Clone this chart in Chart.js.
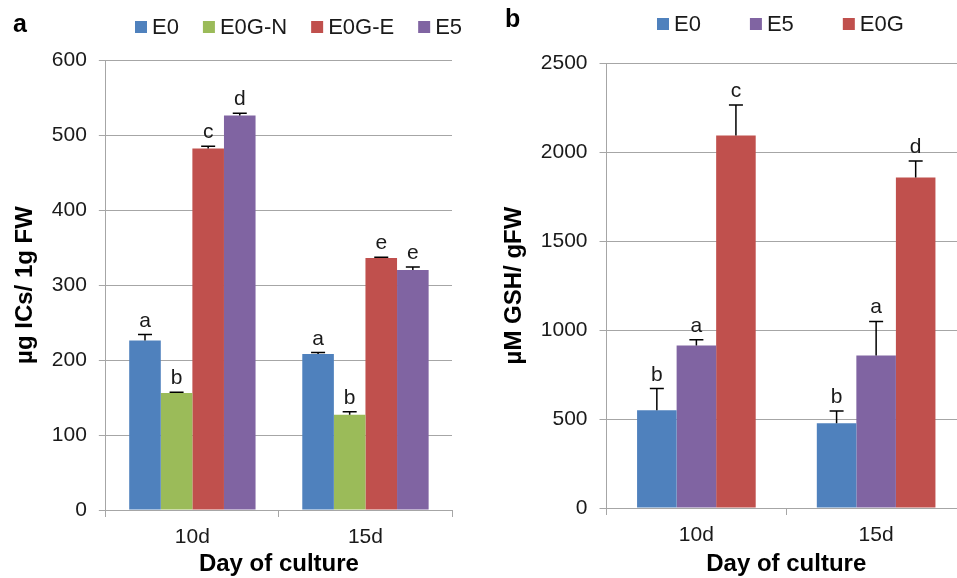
<!DOCTYPE html>
<html>
<head>
<meta charset="utf-8">
<script src="https://cdn.jsdelivr.net/npm/chart.js@4.4.1/dist/chart.umd.min.js"></script>
<style>
  html, body { margin: 0; padding: 0; background: #fff; overflow: hidden; }
  #wrap { position: relative; width: 957px; height: 578px; overflow: hidden; }
  #chartA { position: absolute; left: 0; top: 0; }
  #chartB { position: absolute; left: 488px; top: 0; }
</style>
</head>
<body>
<div id="wrap">
  <canvas id="chartA" width="470" height="578"></canvas>
  <canvas id="chartB" width="490" height="578"></canvas>
</div>
<script>
// shared categories
const days = ['10d', '15d'];

// panel a: ICs content (µg / 1g FW)
const icsE0 = [226, 208];
const icsE0Err = [8, 2];
const icsE0GN = [156, 127];
const icsE0GNErr = [1, 4];
const icsE0GE = [482, 336];
const icsE0GEErr = [3, 1];
const icsE5 = [526, 320];
const icsE5Err = [3, 4];
const icsE0Letters = ['a', 'a'];
const icsE0GNLetters = ['b', 'b'];
const icsE0GELetters = ['c', 'e'];
const icsE5Letters = ['d', 'e'];
const icsTicks = [0, 100, 200, 300, 400, 500, 600];

// panel b: GSH content (µM / gFW)
const gshE0 = [549, 476];
const gshE0Err = [122, 69];
const gshE5 = [913, 857];
const gshE5Err = [32, 191];
const gshE0G = [2092, 1857];
const gshE0GErr = [172, 93];
const gshE0Letters = ['b', 'b'];
const gshE5Letters = ['a', 'a'];
const gshE0GLetters = ['c', 'd'];
const gshTicks = [0, 500, 1000, 1500, 2000, 2500];

const BLUE = '#4f81bd';
const GREEN = '#9bbb59';
const RED = '#c0504d';
const PURPLE = '#8064a2';
const GRID = '#a6a6a6';
const TEXT = '#1a1a1a';
const FONT = "'Liberation Sans', Arial, sans-serif";

// error bars (upper only) + significance letters + legend + panel label
const extrasPlugin = {
    id: 'extras',
    afterDatasetsDraw(chart, args, opts) {
        const ctx = chart.ctx;
        const yScale = chart.scales.y;
        ctx.save();
        chart.data.datasets.forEach((ds, i) => {
            const meta = chart.getDatasetMeta(i);
            meta.data.forEach((bar, j) => {
                const top = yScale.getPixelForValue(ds.data[j] + ds.errors[j]);
                ctx.strokeStyle = '#000';
                ctx.lineWidth = 1.5;
                ctx.beginPath();
                ctx.moveTo(bar.x, bar.y);
                ctx.lineTo(bar.x, top);
                ctx.moveTo(bar.x - 7, top);
                ctx.lineTo(bar.x + 7, top);
                ctx.stroke();
                ctx.fillStyle = TEXT;
                ctx.font = '21px ' + FONT;
                ctx.textAlign = 'center';
                ctx.textBaseline = 'alphabetic';
                ctx.fillText(ds.letters[j], bar.x, top - 8);
            });
        });

        // legend
        let x = opts.legendX;
        const y = opts.legendY;
        ctx.font = '22px ' + FONT;
        ctx.textAlign = 'left';
        ctx.textBaseline = 'middle';
        chart.data.datasets.forEach(ds => {
            ctx.fillStyle = ds.backgroundColor;
            ctx.fillRect(x, y - 6, 12, 12);
            ctx.fillStyle = TEXT;
            ctx.fillText(ds.label, x + 17, y + 1);
            x += 17 + ctx.measureText(ds.label).width + opts.legendGap;
        });

        // panel letter
        ctx.fillStyle = '#000';
        ctx.font = 'bold 25px ' + FONT;
        ctx.textBaseline = 'middle';
        ctx.fillText(opts.panel, opts.panelX, opts.panelY);
        ctx.restore();
    }
};

function makeOptions(yTicks, yTitle, catPct, xTitleGap, extras, padding) {
    return {
        responsive: false,
        animation: false,
        layout: { padding: padding },
        plugins: {
            legend: { display: false },
            tooltip: { enabled: false },
            extras: extras
        },
        scales: {
            x: {
                offset: true,
                grid: { drawOnChartArea: false, offset: true, tickLength: 7, color: GRID },
                border: { color: GRID, width: 1 },
                ticks: { color: TEXT, font: { family: FONT, size: 21 }, padding: 8 },
                title: {
                    display: true,
                    text: 'Day of culture',
                    color: '#000',
                    font: { family: FONT, size: 24, weight: 'bold' },
                    padding: { top: xTitleGap, bottom: 0 }
                }
            },
            y: {
                min: 0,
                max: yTicks[yTicks.length - 1],
                afterBuildTicks: scale => {
                    scale.ticks = yTicks.map(v => ({ value: v }));
                },
                grid: { color: GRID, tickLength: 7, lineWidth: 1 },
                border: { color: GRID, width: 1 },
                ticks: {
                    color: TEXT,
                    font: { family: FONT, size: 21 },
                    padding: 12,
                    callback: v => String(v)
                },
                title: {
                    display: true,
                    text: yTitle,
                    color: '#000',
                    font: { family: FONT, size: 24, weight: 'bold' },
                    padding: { top: 0, bottom: 0 }
                }
            }
        },
        datasets: { bar: { categoryPercentage: catPct, barPercentage: 1.0 } }
    };
}

new Chart(document.getElementById('chartA'), {
    type: 'bar',
    data: {
        labels: days,
        datasets: [
            { label: 'E0', data: icsE0, errors: icsE0Err, letters: icsE0Letters, backgroundColor: BLUE },
            { label: 'E0G-N', data: icsE0GN, errors: icsE0GNErr, letters: icsE0GNLetters, backgroundColor: GREEN },
            { label: 'E0G-E', data: icsE0GE, errors: icsE0GEErr, letters: icsE0GELetters, backgroundColor: RED },
            { label: 'E5', data: icsE5, errors: icsE5Err, letters: icsE5Letters, backgroundColor: PURPLE }
        ]
    },
    options: makeOptions(icsTicks, 'µg ICs/ 1g FW', 0.73, -8,
        { legendX: 135, legendY: 27, legendGap: 24, panel: 'a', panelX: 13, panelY: 25 },
        { top: 60, right: 18, bottom: -1, left: 11 }),
    plugins: [extrasPlugin]
});

new Chart(document.getElementById('chartB'), {
    type: 'bar',
    data: {
        labels: days,
        datasets: [
            { label: 'E0', data: gshE0, errors: gshE0Err, letters: gshE0Letters, backgroundColor: BLUE },
            { label: 'E5', data: gshE5, errors: gshE5Err, letters: gshE5Letters, backgroundColor: PURPLE },
            { label: 'E0G', data: gshE0G, errors: gshE0GErr, letters: gshE0GLetters, backgroundColor: RED }
        ]
    },
    options: makeOptions(gshTicks, 'µM GSH/ gFW', 0.66, -6,
        { legendX: 169, legendY: 24, legendGap: 49, panel: 'b', panelX: 17, panelY: 20 },
        { top: 63, right: 12, bottom: -1, left: 12 }),
    plugins: [extrasPlugin]
});
</script>
</body>
</html>
